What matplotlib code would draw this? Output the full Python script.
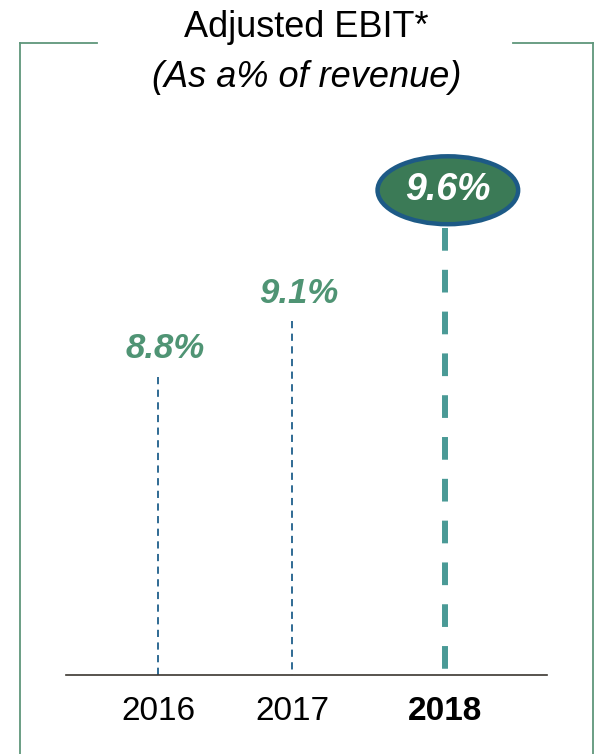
import matplotlib.pyplot as plt
from matplotlib.patches import Ellipse
from matplotlib.lines import Line2D

plt.rcParams['font.family'] = ['Liberation Sans', 'DejaVu Sans']

# data
years = ['2016', '2017', '2018']
ebit_pct = [8.8, 9.1, 9.6]
TITLE = 'Adjusted EBIT*'
SUBTITLE = '(As a% of revenue)'

W, H = 596, 754
fig = plt.figure(figsize=(W / 100, H / 100), dpi=100)

# axes placed in pixel terms
ax = fig.add_axes([66 / W, (H - 675) / H, 481 / W, 575 / H])
ax.set_xlim(-0.641, 2.711)
ax.set_ylim(7.2, 10.29)

for sp in ['top', 'left', 'right']:
    ax.spines[sp].set_visible(False)
ax.spines['bottom'].set_color('#3b3630')
ax.spines['bottom'].set_linewidth(1.2)
ax.set_yticks([])

# columns are not evenly spaced in the original slide
x = [0, 0.934, 2]
ax.set_xticks(x)
ax.set_xticklabels(years, fontsize=24)
ax.tick_params(axis='x', length=0, pad=15)
ax.get_xticklabels()[-1].set_fontweight('bold')

y0 = ax.get_ylim()[0]
green = '#4f9474'

# older years: thin dashed lines with green labels
for i in range(len(years) - 1):
    ax.plot([x[i], x[i]], [ebit_pct[i], y0], color='#1f5f8b', lw=1.3,
            dashes=(4, 3), solid_capstyle='butt')
    ax.annotate(f'{ebit_pct[i]:.1f}%', (x[i], ebit_pct[i]),
                xytext=(5, 8.5), textcoords='offset points',
                ha='center', va='bottom', fontsize=25, fontweight='bold',
                fontstyle='italic', color=green)

# latest year: thick teal dashes and an ellipse badge
i = len(years) - 1
ax.plot([x[i], x[i]], [ebit_pct[i], y0], color='#4a9a96', lw=4.3,
        dashes=(3.8, 3.2), solid_capstyle='butt')
cy = ebit_pct[i] + 0.205
ax.add_patch(Ellipse((x[i] + 0.02, cy), 0.98, 0.365, facecolor='#3b7a56',
                     edgecolor='#1d5a86', lw=3.2, zorder=3))
ax.text(x[i] + 0.02, cy, f'{ebit_pct[i]:.1f}%', ha='center', va='center',
        fontsize=27, fontweight='bold', fontstyle='italic', color='white',
        zorder=4)

# title
fig.text(306 / W, 1 - 37 / H, TITLE, ha='center', va='baseline', fontsize=26)
fig.text(307 / W, 1 - 87 / H, SUBTITLE, ha='center', va='baseline',
         fontsize=26, fontstyle='italic')

# frame around the panel
frame = '#5f967b'
def px_line(xs, ys):
    fig.add_artist(Line2D([v / W for v in xs], [1 - v / H for v in ys],
                          color=frame, lw=1.3))
px_line([20, 97], [43, 43])
px_line([513, 593], [43, 43])
px_line([20, 20], [43, 754])
px_line([593, 593], [43, 754])

fig.savefig('out.png', dpi=100)
